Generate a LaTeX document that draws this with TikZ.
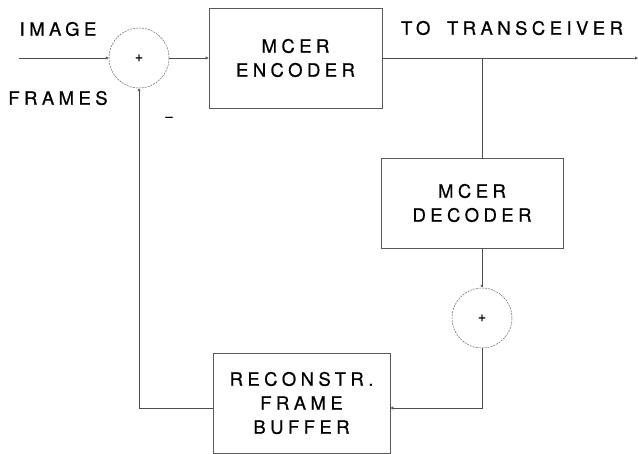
\documentclass[tikz,border=0pt]{standalone}
\usepackage{fontspec}
\newfontfamily\lblfont[LetterSpace=24,FakeBold=0.6]{TeX Gyre Heros}
\newfontfamily\signfont[FakeBold=1.5]{TeX Gyre Heros}
\usetikzlibrary{arrows.meta}

\tikzset{
  wire/.style={line width=0.6pt, draw=black!70},
  tip/.style={-{Triangle[open,length=3pt,width=3pt]}},
  blk/.style={draw=black!65, line width=0.6pt, align=center, inner sep=0pt,
    font=\lblfont\fontsize{18.5}{24}\selectfont},
  summer/.style={circle, draw=black!60, line width=0.5pt, dash pattern=on 2pt off 1pt,
    minimum size=60pt, inner sep=0pt, font=\signfont\fontsize{14}{14}\selectfont},
  lbl/.style={font=\lblfont\fontsize{18.5}{24}\selectfont, inner sep=0pt}
}

\begin{document}
\begin{tikzpicture}[x=1pt,y=-1pt]
\useasboundingbox (0,0) rectangle (639,454);
% blocks
\node[summer] (sumA) at (139,58) {+};
\node[blk, minimum width=173pt, minimum height=100pt] (enc) at (295.5,58) {MCER\\ENCODER};
\node[blk, minimum width=182pt, minimum height=90pt] (dec) at (472,203) {MCER\\DECODER};
\node[summer] (sumB) at (482,318) {+};
\node[blk, minimum width=177pt, minimum height=100pt] (buf) at (301.5,403) {RECONSTR.\\FRAME\\BUFFER};
% labels
\node[lbl] (image) at (58,29) {IMAGE};
\node[lbl] (frames) at (58,98) {FRAMES};
\node[font=\signfont\fontsize{13}{13}\selectfont, inner sep=0pt] (minus) at (169,119) {–};
\node[lbl] (totx) at (512,28) {TO\hspace{7pt} TRANSCEIVER};
% free ends
\coordinate (in) at (19,58);
\coordinate (out) at (638,58);
\coordinate (br) at (482,58);
% wires
\draw[wire, tip] (in) -- (sumA.west);
\draw[wire, tip] (sumA.east) -- (enc.west);
\draw[wire, tip] (enc.east) -- (out);
\draw[wire] (br) -- (br |- dec.north);
\draw[wire, tip] (dec.south -| br) -- (sumB.north);
\draw[wire, tip] (sumB.south) |- ([yshift=-5pt]buf.east);
\draw[wire, tip] ([yshift=-5pt]buf.west) -| (sumA.south);
\end{tikzpicture}
\end{document}
